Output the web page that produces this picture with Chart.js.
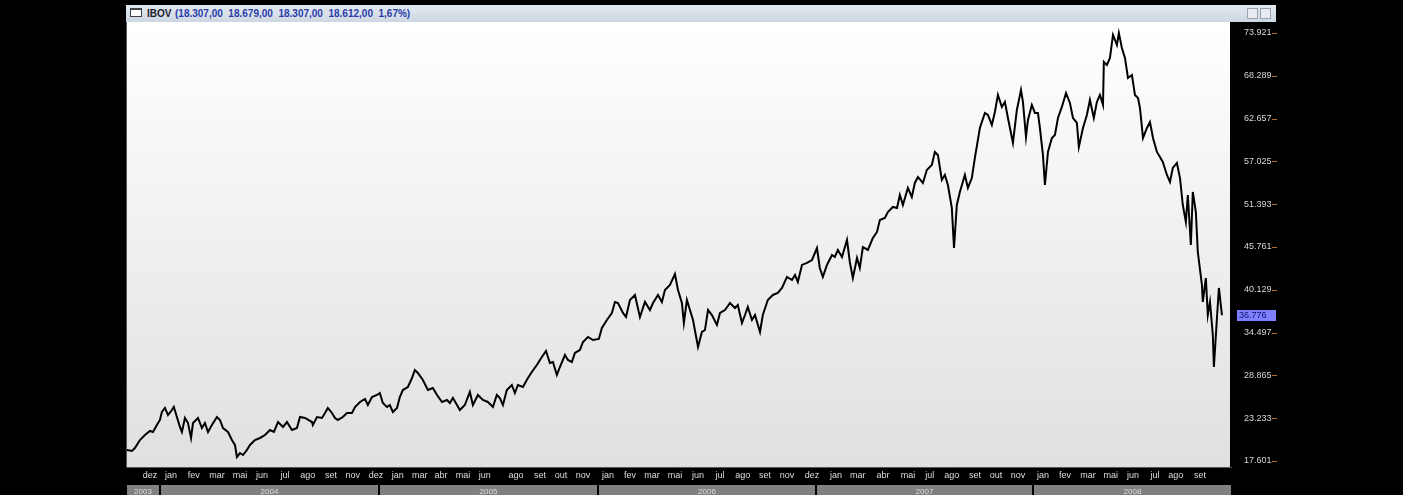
<!DOCTYPE html>
<html>
<head>
<meta charset="utf-8">
<script src="https://cdn.jsdelivr.net/npm/chart.js@4.4.1/dist/chart.umd.min.js"></script>
<style>
  html, body { margin: 0; padding: 0; background: #000; }
  #wrap { position: relative; width: 1403px; height: 495px; overflow: hidden; }
  #titlebar {
    position: absolute; left: 126px; top: 5px; width: 1150px; height: 17px;
    background: linear-gradient(#e3e9f0, #cdd7e2);
    font: bold 10px "Liberation Sans", Arial, sans-serif; line-height: 17px;
    white-space: nowrap;
  }
  #titlebar .icon {
    position: absolute; left: 4px; top: 3px; width: 12px; height: 9px;
    border: 1px solid #444; border-top-width: 2px; background: #fff; box-sizing: border-box;
  }
  #titlebar .name { position: absolute; top: 0; left: 21px; color: #1a1a2a; }
  #titlebar .ohlc { position: absolute; top: 0; left: 49px; color: #2a3caa; white-space: pre; }
  #titlebar .btn {
    position: absolute; top: 3px; width: 11px; height: 11px;
    border: 1px solid #9aa4b0; background: #e8ecf0; box-sizing: border-box;
  }
  canvas { position: absolute; left: 0; top: 0; }
</style>
</head>
<body>
<div id="wrap">
  <canvas id="graph" width="1403" height="495"></canvas>
  <div id="titlebar"><span class="icon"></span><span class="name">IBOV</span><span class="ohlc" id="ohlc"></span><span class="btn" style="left:1121px"></span><span class="btn" style="left:1134px"></span></div>
</div>
<script>
// Series: decimal-year position of each sample and the index level
const dates = [
  2003.848, 2003.871, 2003.885, 2003.908, 2003.931, 2003.954, 2003.968, 2003.986, 2004.000, 2004.009,
  2004.023, 2004.037, 2004.055, 2004.064, 2004.078, 2004.092, 2004.101, 2004.115, 2004.129, 2004.143,
  2004.152, 2004.175, 2004.193, 2004.207, 2004.221, 2004.239, 2004.262, 2004.276, 2004.290, 2004.313,
  2004.331, 2004.345, 2004.354, 2004.368, 2004.382, 2004.400, 2004.414, 2004.437, 2004.460, 2004.483,
  2004.506, 2004.524, 2004.543, 2004.566, 2004.584, 2004.607, 2004.630, 2004.644, 2004.667, 2004.699,
  2004.703, 2004.722, 2004.745, 2004.759, 2004.772, 2004.791, 2004.805, 2004.818, 2004.841, 2004.860,
  2004.883, 2004.897, 2004.920, 2004.943, 2004.956, 2004.975, 2004.998, 2005.011, 2005.025, 2005.044,
  2005.057, 2005.071, 2005.090, 2005.103, 2005.117, 2005.140, 2005.159, 2005.172, 2005.186, 2005.209,
  2005.232, 2005.255, 2005.274, 2005.297, 2005.320, 2005.333, 2005.347, 2005.366, 2005.379, 2005.402,
  2005.425, 2005.439, 2005.462, 2005.485, 2005.508, 2005.531, 2005.549, 2005.563, 2005.577, 2005.595,
  2005.618, 2005.632, 2005.646, 2005.669, 2005.692, 2005.710, 2005.733, 2005.756, 2005.775, 2005.793,
  2005.807, 2005.825, 2005.839, 2005.862, 2005.876, 2005.894, 2005.908, 2005.931, 2005.945, 2005.968,
  2005.991, 2006.018, 2006.032, 2006.055, 2006.078, 2006.092, 2006.106, 2006.129, 2006.143, 2006.161,
  2006.184, 2006.207, 2006.230, 2006.253, 2006.267, 2006.290, 2006.308, 2006.322, 2006.345, 2006.368,
  2006.382, 2006.400, 2006.409, 2006.423, 2006.437, 2006.451, 2006.474, 2006.492, 2006.506, 2006.520,
  2006.538, 2006.561, 2006.575, 2006.598, 2006.621, 2006.644, 2006.657, 2006.676, 2006.690, 2006.703,
  2006.722, 2006.736, 2006.759, 2006.772, 2006.795, 2006.818, 2006.841, 2006.860, 2006.883, 2006.906,
  2006.920, 2006.933, 2006.952, 2006.975, 2006.998, 2007.021, 2007.034, 2007.048, 2007.067, 2007.090,
  2007.103, 2007.117, 2007.136, 2007.159, 2007.172, 2007.186, 2007.205, 2007.218, 2007.232, 2007.255,
  2007.278, 2007.297, 2007.310, 2007.333, 2007.347, 2007.370, 2007.389, 2007.402, 2007.416, 2007.439,
  2007.457, 2007.471, 2007.485, 2007.508, 2007.526, 2007.549, 2007.563, 2007.577, 2007.595, 2007.609,
  2007.623, 2007.641, 2007.651, 2007.664, 2007.678, 2007.701, 2007.715, 2007.733, 2007.747, 2007.770,
  2007.793, 2007.807, 2007.825, 2007.839, 2007.853, 2007.871, 2007.885, 2007.899, 2007.922, 2007.940,
  2007.959, 2007.968, 2007.982, 2007.991, 2008.009, 2008.023, 2008.037, 2008.046, 2008.060, 2008.069,
  2008.083, 2008.101, 2008.115, 2008.129, 2008.147, 2008.166, 2008.184, 2008.198, 2008.216, 2008.225,
  2008.244, 2008.262, 2008.276, 2008.294, 2008.308, 2008.322, 2008.336, 2008.340, 2008.354, 2008.368,
  2008.382, 2008.400, 2008.409, 2008.423, 2008.437, 2008.451, 2008.469, 2008.483, 2008.497, 2008.506,
  2008.520, 2008.538, 2008.552, 2008.566, 2008.584, 2008.598, 2008.611, 2008.630, 2008.644, 2008.657,
  2008.676, 2008.690, 2008.703, 2008.717, 2008.726, 2008.740, 2008.749, 2008.763, 2008.772, 2008.791,
  2008.795, 2008.809, 2008.818, 2008.828, 2008.841, 2008.846, 2008.860, 2008.869, 2008.883
];
const closes = [
  19050, 18920, 19310, 20360, 21020, 21550, 21420, 22340, 23000, 24050,
  24580, 23650, 24310, 24710, 23390, 22080, 21420, 23260, 22600, 20630,
  22600, 23260, 21940, 22600, 21420, 22340, 23390, 23000, 21940, 21420,
  20360, 19710, 18130, 18650, 18390, 19050, 19710, 20360, 20630, 21020,
  21680, 21420, 22730, 22080, 22730, 21680, 21940, 23390, 23260, 22730,
  22340, 23390, 23260, 23920, 24580, 23920, 23260, 23000, 23390, 23920,
  23920, 24710, 25370, 25760, 24970, 26020, 26290, 26550, 25230, 24710,
  24970, 24050, 24580, 26020, 26940, 27340, 28520, 29580, 29180, 28260,
  26940, 27210, 26290, 25370, 25630, 25230, 25890, 24970, 24310, 24970,
  26680, 24970, 26290, 25630, 25370, 24710, 26290, 25890, 24970, 26940,
  27600, 26550, 27600, 27340, 28520, 29310, 30230, 31290, 32080, 30500,
  30630, 28920, 29970, 31550, 30890, 30630, 31810, 32210, 33260, 33920,
  33520, 33660, 35100, 36160, 37080, 38530, 38390, 37080, 36550, 38790,
  39450, 36550, 38530, 37470, 38390, 39450, 38530, 40110, 40760, 42210,
  40110, 38390, 35760, 38790, 37470, 36160, 32600, 34580, 34840, 37470,
  36810, 35500, 37080, 37470, 38390, 37740, 38130, 35760, 36810, 37870,
  36160, 36810, 34580, 36810, 38790, 39450, 39710, 40370, 41820, 41420,
  42080, 41160, 43400, 43660, 44050, 45630, 43000, 41820, 43400, 44710,
  44450, 45370, 44450, 46690, 43790, 41680, 44320, 43000, 45760, 45370,
  46950, 47740, 49320, 49580, 50370, 51030, 50900, 52610, 51290, 53530,
  52340, 54190, 54980, 54190, 55900, 56560, 58270, 57870, 54580, 55240,
  53920, 50900, 45630, 51290, 53000, 55240, 53530, 54840, 57480, 61420,
  63400, 63130, 61820, 63530, 65770, 64190, 64850, 62740, 59450, 63790,
  66420, 64850, 60240, 62480, 64450, 63400, 63400, 61420, 57870, 53920,
  58270, 60110, 60500, 62740, 64190, 66030, 64710, 62740, 62080, 58920,
  61420, 63130, 65110, 62740, 64850, 65770, 64450, 70110, 69710, 70640,
  73660, 72350, 73920, 71950, 70640, 68000, 68400, 65770, 65370, 64060,
  60110, 61420, 62210, 60110, 58270, 57610, 56950, 55240, 54320, 56160,
  56820, 54840, 51290, 49050, 52610, 46030, 53000, 50370, 45100, 40760,
  38530, 41680, 36810, 38530, 34180, 29970, 36420, 40370, 36780
];

// Axis labels
const priceTicks = [17601, 23233, 28865, 34497, 40129, 45761, 51393, 57025, 62657, 68289, 73921];
const monthNames = ['dez', 'jan', 'fev', 'mar', 'mai', 'jun', 'jul', 'ago', 'set', 'nov', 'dez',
  'jan', 'mar', 'abr', 'mai', 'jun', 'ago', 'set', 'out', 'nov',
  'jan', 'fev', 'mar', 'mai', 'jun', 'jul', 'ago', 'set', 'nov', 'dez',
  'jan', 'mar', 'abr', 'mai', 'jul', 'ago', 'set', 'out', 'nov',
  'jan', 'fev', 'mar', 'mai', 'jun', 'jul', 'ago', 'set'];
const monthPos = [2003.954, 2004.051, 2004.156, 2004.262, 2004.368, 2004.469, 2004.575, 2004.680, 2004.786, 2004.887, 2004.993,
  2005.094, 2005.195, 2005.292, 2005.393, 2005.494, 2005.637, 2005.747, 2005.844, 2005.945,
  2006.060, 2006.161, 2006.262, 2006.368, 2006.474, 2006.575, 2006.680, 2006.782, 2006.883, 2006.998,
  2007.108, 2007.209, 2007.324, 2007.439, 2007.540, 2007.641, 2007.747, 2007.844, 2007.945,
  2008.060, 2008.161, 2008.267, 2008.372, 2008.474, 2008.575, 2008.671, 2008.782];
const years = ['2003', '2004', '2005', '2006', '2007', '2008'];
const yearStarts = [2003.844, 2004.000, 2005.005, 2006.016, 2007.018, 2008.014, 2008.929];

// Header quote
const quote = ['18.307,00', '18.679,00', '18.307,00', '18.612,00', '1,67%'];
document.getElementById('ohlc').textContent = '(' + quote.join('  ') + ')';

function fmtPts(n) {
  return String(Math.round(n)).replace(/\B(?=(\d{3})+(?!\d))/g, '.');
}

// Plot background gradient and borders
const backdrop = {
  id: 'backdrop',
  beforeDatasetsDraw(chart) {
    const { ctx, chartArea: a } = chart;
    ctx.save();
    const g = ctx.createLinearGradient(0, a.top, 0, a.bottom);
    g.addColorStop(0, '#ffffff');
    g.addColorStop(1, '#e0e0e0');
    ctx.fillStyle = g;
    ctx.fillRect(a.left, a.top, a.right - a.left, a.bottom - a.top);
    ctx.strokeStyle = '#555';
    ctx.lineWidth = 1;
    ctx.beginPath();
    ctx.moveTo(a.left + 0.5, a.top);
    ctx.lineTo(a.left + 0.5, a.bottom + 0.5);
    ctx.lineTo(a.right + 2, a.bottom + 0.5);
    ctx.stroke();
    ctx.restore();
  }
};

// Year strip, price tick dashes and last-value tag
const extras = {
  id: 'extras',
  afterDraw(chart) {
    const { ctx, scales: { x, y } } = chart;
    ctx.save();
    // year strip
    ctx.font = '8px "Liberation Sans", Arial, sans-serif';
    ctx.textAlign = 'center';
    ctx.textBaseline = 'top';
    for (let i = 0; i < years.length; i++) {
      const x0 = Math.round(x.getPixelForValue(yearStarts[i])) + 1;
      const x1 = Math.round(x.getPixelForValue(yearStarts[i + 1])) - 1;
      ctx.fillStyle = '#808080';
      ctx.fillRect(x0, 485, x1 - x0, 10);
      ctx.fillStyle = '#dcdcdc';
      ctx.fillText(years[i], (x0 + x1) / 2, 488);
    }
    // small orange dashes next to price labels
    ctx.strokeStyle = '#b8702e';
    ctx.lineWidth = 1;
    priceTicks.forEach((v) => {
      const py = Math.round(y.getPixelForValue(v)) + 0.5;
      ctx.beginPath();
      ctx.moveTo(1272, py);
      ctx.lineTo(1277, py);
      ctx.stroke();
    });
    // last value tag
    const last = closes[closes.length - 1];
    const ly = y.getPixelForValue(last);
    ctx.fillStyle = '#7f80ff';
    ctx.fillRect(1237, Math.round(ly) - 5, 39, 11);
    ctx.fillStyle = '#101070';
    ctx.font = '9px "Liberation Sans", Arial, sans-serif';
    ctx.textAlign = 'left';
    ctx.textBaseline = 'middle';
    ctx.fillText('36.776', 1239, Math.round(ly) + 0.5);
    ctx.restore();
  }
};

const ctx = document.getElementById('graph').getContext('2d');
window.barChart = new Chart(ctx, {
  type: 'line',
  data: {
    datasets: [{
      label: 'IBOV',
      data: dates.map((d, i) => ({ x: d, y: closes[i] })),
      borderColor: '#000',
      borderWidth: 2,
      pointRadius: 0,
      tension: 0,
      fill: false
    }]
  },
  plugins: [backdrop, extras],
  options: {
    responsive: false,
    animation: false,
    layout: { padding: { left: 126, right: 123, top: 22, bottom: 0 } },
    plugins: { legend: { display: false }, tooltip: { enabled: false } },
    scales: {
      x: {
        type: 'linear',
        min: 2003.844,
        max: 2008.920,
        grid: { display: false, drawTicks: false, tickLength: 0 },
        border: { display: false },
        afterFit(scale) { scale.height = 28; },
        afterBuildTicks(scale) { scale.ticks = monthPos.map((v) => ({ value: v })); },
        ticks: {
          autoSkip: false,
          maxRotation: 0,
          padding: 3,
          color: '#dedede',
          font: { family: '"Liberation Sans", Arial, sans-serif', size: 9 },
          callback: (v, i) => monthNames[i]
        }
      },
      y: {
        position: 'right',
        min: 16811,
        max: 75369,
        grid: { display: false, drawTicks: false, tickLength: 0 },
        border: { display: false },
        afterFit(scale) { scale.width = 50; },
        afterBuildTicks(scale) { scale.ticks = priceTicks.map((v) => ({ value: v })); },
        ticks: {
          padding: 14,
          color: '#d8d8d8',
          font: { family: '"Liberation Sans", Arial, sans-serif', size: 9 },
          callback: (v) => fmtPts(v)
        }
      }
    }
  }
});
</script>
</body>
</html>
